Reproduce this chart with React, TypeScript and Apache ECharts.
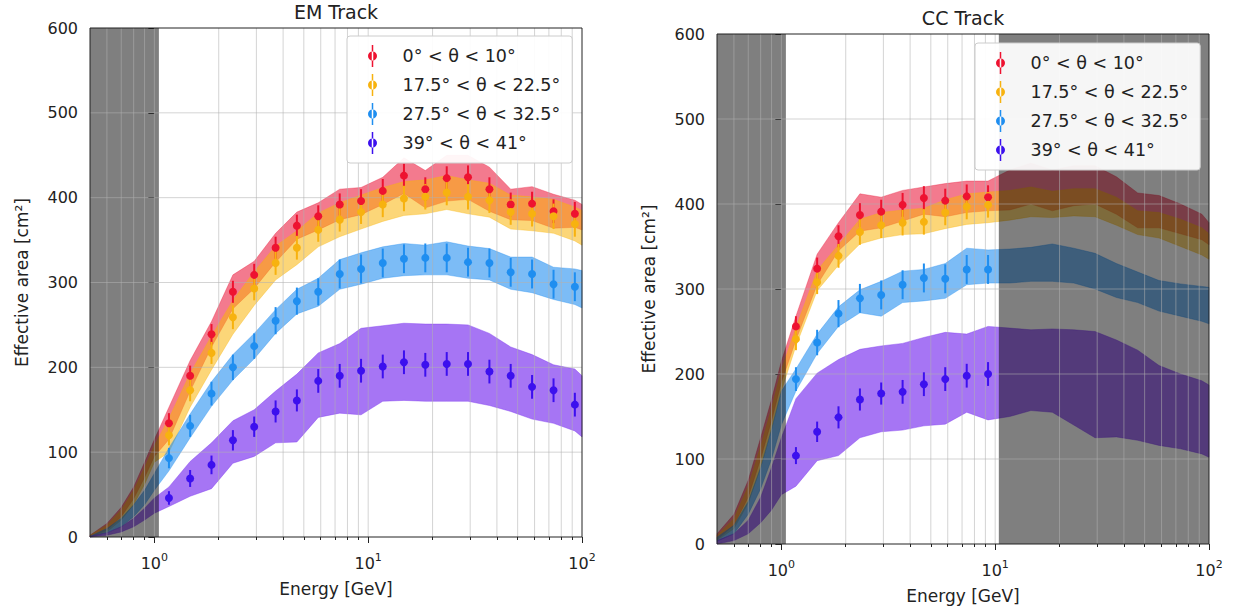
import React, { useEffect, useRef } from 'react';
import * as echarts from 'echarts';

const FONT = '"DejaVu Sans", "Liberation Sans", sans-serif';
const TEXT = '#222222';

const panelTitles = ['EM Track', 'CC Track'];
const xAxisName = 'Energy [GeV]';
const yAxisName = 'Effective area [cm²]';
const seriesLabels = ['0° < θ < 10°', '17.5° < θ < 22.5°', '27.5° < θ < 32.5°', '39° < θ < 41°'];

const xMajorTicks = [1, 10, 100];
const xMinorTicks = [0.6, 0.7, 0.8, 0.9, 2, 3, 4, 5, 6, 7, 8, 9, 20, 30, 40, 50, 60, 70, 80, 90];
const yGridValues = [100, 200, 300, 400, 500];
const X_MIN = 0.5;
const X_MAX = 100;
const Y_MIN = 0;
const Y_MAX = 600;

// bin centres (GeV)
const emEnergies = [1.17, 1.47, 1.85, 2.33, 2.93, 3.69, 4.64, 5.84, 7.36, 9.26, 11.7, 14.7, 18.5, 23.3, 29.3, 36.9, 46.4, 58.4, 73.6, 92.6];
const ccEnergies = [1.17, 1.47, 1.85, 2.33, 2.93, 3.69, 4.64, 5.84, 7.36, 9.26];
const bandEnergies = [0.5, 0.6, 0.7, 0.8, 0.9, 1.0, 1.17, 1.47, 1.85, 2.33, 2.93, 3.69, 4.64, 5.84, 7.36, 9.26, 11.7, 14.7, 18.5, 23.3, 29.3, 36.9, 46.4, 58.4, 73.6, 92.6, 100];

// EM track points
const emRed = [134, 190, 239, 289, 309, 341, 367, 378, 392, 396, 408, 426, 410, 423, 424, 410, 392, 393, 384, 381];
const emOrange = [120, 173, 217, 259, 293, 323, 341, 362, 374, 383, 392, 399, 401, 406, 401, 397, 383, 381, 378, 369];
const emBlue = [93, 131, 169, 200, 225, 255, 278, 289, 310, 316, 323, 328, 329, 329, 324, 323, 312, 310, 298, 295];
const emPurple = [46, 69, 85, 114, 130, 148, 161, 184, 190, 196, 201, 206, 203, 204, 204, 195, 190, 177, 173, 156];

const emRedErr = [12, 12, 12, 13, 13, 13, 13, 13, 13, 14, 14, 14, 14, 14, 14, 14, 14, 14, 14, 14];
const emOrangeErr = [12, 13, 13, 14, 14, 14, 14, 14, 14, 14, 15, 15, 15, 15, 15, 15, 15, 15, 15, 15];
const emBlueErr = [12, 13, 14, 15, 15, 16, 16, 16, 17, 17, 17, 17, 17, 17, 17, 17, 17, 17, 17, 17];
const emPurpleErr = [8, 10, 11, 12, 12, 13, 13, 14, 14, 14, 14, 14, 14, 14, 14, 14, 14, 14, 14, 14];

// EM track bands
const emRedHigh = [2, 16, 35, 59, 88, 115, 153, 208, 254, 309, 325, 358, 383, 394, 410, 412, 424, 447, 432, 450, 450, 436, 410, 413, 404, 397, 392];
const emRedLow = [0, 8, 24, 45, 70, 95, 115, 172, 224, 269, 293, 324, 351, 362, 374, 380, 392, 405, 388, 396, 398, 384, 374, 373, 364, 365, 362];
const emOrangeHigh = [2, 14, 32, 55, 82, 108, 140, 193, 237, 279, 313, 343, 361, 382, 394, 403, 412, 419, 421, 426, 421, 417, 403, 401, 398, 389, 385];
const emOrangeLow = [0, 6, 20, 38, 62, 88, 100, 153, 197, 239, 273, 303, 321, 342, 354, 363, 372, 379, 381, 386, 381, 377, 363, 361, 358, 349, 344];
const emBlueHigh = [1, 10, 22, 38, 55, 75, 105, 145, 183, 215, 240, 268, 292, 305, 327, 335, 342, 346, 344, 348, 343, 340, 330, 330, 318, 316, 314];
const emBlueLow = [0, 5, 12, 24, 38, 55, 78, 117, 154, 185, 210, 240, 263, 272, 292, 298, 305, 308, 309, 309, 305, 303, 292, 288, 280, 274, 270];
const emPurpleHigh = [1, 5, 12, 22, 34, 46, 59, 89, 111, 137, 150, 172, 192, 217, 228, 246, 249, 252, 251, 251, 250, 240, 224, 215, 203, 198, 190];
const emPurpleLow = [0, 2, 6, 12, 20, 28, 36, 48, 57, 87, 95, 111, 112, 141, 146, 144, 160, 161, 160, 160, 160, 155, 148, 139, 134, 125, 118];

// CC track points
const ccRed = [256, 324, 362, 387, 391, 399, 407, 404, 409, 408];
const ccOrange = [241, 308, 339, 367, 375, 378, 379, 390, 397, 399];
const ccBlue = [194, 237, 271, 289, 293, 305, 313, 312, 323, 323];
const ccPurple = [104, 132, 149, 170, 177, 179, 188, 194, 198, 200];

const ccRedErr = [12, 13, 13, 14, 14, 14, 14, 14, 14, 14];
const ccOrangeErr = [13, 14, 14, 15, 15, 15, 15, 15, 15, 15];
const ccBlueErr = [14, 15, 16, 17, 17, 17, 17, 17, 17, 17];
const ccPurpleErr = [10, 12, 13, 13, 13, 14, 14, 14, 14, 14];

// CC track bands
const ccRedHigh = [12, 35, 75, 125, 170, 215, 268, 341, 378, 412, 408, 416, 420, 424, 427, 427, 440, 448, 440, 445, 445, 432, 413, 410, 400, 388, 378];
const ccRedLow = [5, 22, 55, 100, 145, 190, 240, 305, 345, 368, 372, 380, 388, 385, 390, 392, 393, 400, 392, 398, 400, 388, 372, 372, 365, 358, 352];
const ccOrangeHigh = [10, 30, 68, 115, 160, 205, 255, 322, 352, 382, 390, 393, 395, 405, 412, 414, 416, 420, 415, 418, 418, 408, 392, 390, 382, 372, 365];
const ccOrangeLow = [4, 18, 48, 90, 135, 180, 233, 298, 328, 353, 360, 364, 365, 371, 376, 378, 381, 385, 384, 386, 385, 375, 364, 360, 350, 340, 335];
const ccBlueHigh = [8, 22, 50, 90, 135, 180, 206, 247, 279, 299, 309, 321, 323, 330, 348, 346, 347, 349, 353, 348, 342, 330, 320, 310, 306, 303, 302];
const ccBlueLow = [3, 12, 35, 65, 100, 140, 180, 224, 256, 272, 268, 284, 286, 289, 305, 307, 307, 309, 309, 307, 300, 290, 284, 274, 268, 262, 259];
const ccPurpleHigh = [4, 12, 28, 55, 90, 125, 171, 201, 217, 229, 233, 236, 243, 249, 247, 256, 254, 252, 253, 252, 250, 240, 228, 210, 200, 192, 187];
const ccPurpleLow = [0, 4, 12, 25, 40, 58, 68, 98, 104, 125, 132, 134, 139, 141, 155, 146, 150, 157, 155, 140, 125, 126, 122, 116, 112, 106, 102];

// shaded (excluded) energy ranges
const emGrayRanges = [[0.5, 1.05]];
const ccGrayRanges = [[0.5, 1.05], [10.4, 100]];

const pointColors = ['#ee1230', '#f7b20f', '#1f8ef0', '#3c10ee'];
const bandColors = ['rgba(235,25,60,0.58)', 'rgba(250,180,10,0.55)', 'rgba(30,140,240,0.58)', 'rgba(128,58,240,0.7)'];

const lg = (v: number) => Math.log10(v);

const LEGEND_ICON = 'path://M9.25,0h1.5v22h-1.5z M5.5,11a4.5,4.5 0 1,0 9,0a4.5,4.5 0 1,0 -9,0z';

function buildOption() {
  const series: any[] = [];

  const addPanel = (
    xi: number,
    yi: number,
    pointE: number[],
    points: number[][],
    errs: number[][],
    lows: number[][],
    highs: number[][],
    grays: number[][]
  ) => {
    for (let s = 0; s < 4; s++) {
      const low = lows[s];
      const high = highs[s];
      const fill = bandColors[s];
      series.push({
        type: 'custom',
        name: 'band-' + xi + '-' + s,
        coordinateSystem: 'cartesian2d',
        xAxisIndex: xi,
        yAxisIndex: yi,
        z: 1 + s * 0.1,
        silent: true,
        clip: false,
        data: [[lg(bandEnergies[0]), low[0]]],
        renderItem: (_p: any, api: any) => {
          const pts: number[][] = [];
          for (let i = 0; i < bandEnergies.length; i++) pts.push(api.coord([lg(bandEnergies[i]), high[i]]));
          for (let i = bandEnergies.length - 1; i >= 0; i--) pts.push(api.coord([lg(bandEnergies[i]), low[i]]));
          return { type: 'polygon', shape: { points: pts }, style: { fill, stroke: fill, lineWidth: 0.6 } };
        },
      });
    }
    series.push({
      type: 'custom',
      name: 'gray-' + xi,
      coordinateSystem: 'cartesian2d',
      xAxisIndex: xi,
      yAxisIndex: yi,
      z: 3,
      silent: true,
      clip: false,
      data: grays.map((g) => [lg(g[0]), lg(g[1])]),
      renderItem: (_p: any, api: any) => {
        const a = api.coord([api.value(0), Y_MAX]);
        const b = api.coord([api.value(1), Y_MIN]);
        return { type: 'rect', shape: { x: a[0], y: a[1], width: b[0] - a[0], height: b[1] - a[1] }, style: { fill: 'rgba(0,0,0,0.5)' } };
      },
    });
    series.push({
      type: 'custom',
      name: 'grid-' + xi,
      coordinateSystem: 'cartesian2d',
      xAxisIndex: xi,
      yAxisIndex: yi,
      z: 4,
      silent: true,
      clip: false,
      data: [[lg(X_MIN), Y_MIN]],
      renderItem: (_p: any, api: any) => {
        const children: any[] = [];
        const st = { stroke: 'rgba(176,176,176,0.55)', lineWidth: 1 };
        [...xMajorTicks, ...xMinorTicks].forEach((t) => {
          if (t >= X_MAX) return;
          const a = api.coord([lg(t), Y_MIN]);
          const b = api.coord([lg(t), Y_MAX]);
          children.push({ type: 'line', shape: { x1: a[0], y1: a[1], x2: b[0], y2: b[1] }, style: st });
        });
        yGridValues.forEach((v) => {
          const a = api.coord([lg(X_MIN), v]);
          const b = api.coord([lg(X_MAX), v]);
          children.push({ type: 'line', shape: { x1: a[0], y1: a[1], x2: b[0], y2: b[1] }, style: st });
        });
        return { type: 'group', children };
      },
    });
    for (let s = 0; s < 4; s++) {
      const color = pointColors[s];
      series.push({
        type: 'custom',
        name: 'err-' + xi + '-' + s,
        coordinateSystem: 'cartesian2d',
        xAxisIndex: xi,
        yAxisIndex: yi,
        z: 5,
        silent: true,
        clip: false,
        data: pointE.map((e, i) => [lg(e), points[s][i], errs[s][i]]),
        renderItem: (_p: any, api: any) => {
          const x = api.value(0);
          const v = api.value(1);
          const er = api.value(2);
          const a = api.coord([x, v - er]);
          const b = api.coord([x, v + er]);
          return { type: 'line', shape: { x1: a[0], y1: a[1], x2: b[0], y2: b[1] }, style: { stroke: color, lineWidth: 2 } };
        },
      });
      series.push({
        type: 'scatter',
        name: seriesLabels[s],
        xAxisIndex: xi,
        yAxisIndex: yi,
        z: 6,
        symbol: 'circle',
        symbolSize: 8,
        itemStyle: { color, opacity: 1 },
        data: pointE.map((e, i) => [lg(e), points[s][i]]),
      });
    }
    series.push({
      type: 'custom',
      name: 'frame-' + xi,
      coordinateSystem: 'cartesian2d',
      xAxisIndex: xi,
      yAxisIndex: yi,
      z: 7,
      silent: true,
      clip: false,
      data: [[lg(X_MIN), Y_MIN]],
      renderItem: (_p: any, api: any) => {
        const a = api.coord([lg(X_MIN), Y_MAX]);
        const b = api.coord([lg(X_MAX), Y_MIN]);
        return { type: 'rect', shape: { x: a[0], y: a[1], width: b[0] - a[0], height: b[1] - a[1] }, style: { fill: 'none', stroke: TEXT, lineWidth: 1 } };
      },
    });
  };

  addPanel(0, 0, emEnergies, [emRed, emOrange, emBlue, emPurple], [emRedErr, emOrangeErr, emBlueErr, emPurpleErr],
    [emRedLow, emOrangeLow, emBlueLow, emPurpleLow], [emRedHigh, emOrangeHigh, emBlueHigh, emPurpleHigh], emGrayRanges);
  addPanel(2, 1, ccEnergies, [ccRed, ccOrange, ccBlue, ccPurple], [ccRedErr, ccOrangeErr, ccBlueErr, ccPurpleErr],
    [ccRedLow, ccOrangeLow, ccBlueLow, ccPurpleLow], [ccRedHigh, ccOrangeHigh, ccBlueHigh, ccPurpleHigh], ccGrayRanges);

  const makeXAxes = (gridIndex: number) => [
    {
      type: 'value',
      gridIndex,
      min: lg(X_MIN),
      max: lg(X_MAX),
      position: 'bottom',
      axisLine: { show: false },
      splitLine: { show: false },
      axisTick: { show: true, length: 6, customValues: xMajorTicks.map(lg), lineStyle: { color: TEXT, width: 1 } },
      axisLabel: {
        customValues: xMajorTicks.map(lg),
        margin: 15,
        color: TEXT,
        fontSize: 16,
        fontFamily: FONT,
        lineHeight: 22,
        formatter: (v: number) => '10{sup|' + Math.round(v) + '}',
        rich: { sup: { fontSize: 11, fontFamily: FONT, color: TEXT, verticalAlign: 'top', lineHeight: 12 } },
      },
      name: xAxisName,
      nameLocation: 'middle',
      nameGap: 43,
      nameTextStyle: { fontSize: 17, color: TEXT, fontFamily: FONT },
    },
    {
      type: 'value',
      gridIndex,
      min: lg(X_MIN),
      max: lg(X_MAX),
      position: 'bottom',
      axisLine: { show: false },
      splitLine: { show: false },
      axisLabel: { show: false },
      axisTick: { show: true, length: 3, customValues: xMinorTicks.map(lg), lineStyle: { color: TEXT, width: 1 } },
    },
  ];

  const makeYAxis = (gridIndex: number) => ({
    type: 'value',
    gridIndex,
    min: Y_MIN,
    max: Y_MAX,
    interval: 100,
    axisLine: { show: false },
    splitLine: { show: false },
    axisTick: { show: true, length: 6, lineStyle: { color: TEXT, width: 1 } },
    axisLabel: { margin: 12, fontSize: 16, color: TEXT, fontFamily: FONT },
    name: yAxisName,
    nameLocation: 'middle',
    nameGap: 60,
    nameTextStyle: { fontSize: 17, color: TEXT, fontFamily: FONT },
  });

  const makeLegend = (left: number, top: number) => ({
    data: seriesLabels,
    orient: 'vertical',
    left,
    top,
    padding: [9, 12, 9, 21],
    itemWidth: 50,
    itemHeight: 22,
    itemGap: 7,
    icon: LEGEND_ICON,
    selectedMode: false,
    backgroundColor: 'rgba(255,255,255,0.93)',
    borderColor: '#cccccc',
    borderWidth: 1,
    borderRadius: 3,
    z: 20,
    textStyle: { fontSize: 17.5, color: TEXT, fontFamily: FONT },
  });

  return {
    animation: false,
    backgroundColor: '#ffffff',
    textStyle: { fontFamily: FONT },
    grid: [
      { left: 90, top: 28, width: 492, height: 509 },
      { left: 717, top: 34, width: 492, height: 510 },
    ],
    xAxis: [...makeXAxes(0), ...makeXAxes(1)],
    yAxis: [makeYAxis(0), makeYAxis(1)],
    legend: [makeLegend(347, 36), makeLegend(975, 43)],
    graphic: [
      { type: 'text', x: 336, y: 12, z: 30, style: { text: panelTitles[0], fill: TEXT, fontSize: 19, fontFamily: FONT, align: 'center', verticalAlign: 'middle' } },
      { type: 'text', x: 963, y: 18, z: 30, style: { text: panelTitles[1], fill: TEXT, fontSize: 19, fontFamily: FONT, align: 'center', verticalAlign: 'middle' } },
    ],
    series,
  };
}

export default function App() {
  const ref = useRef<HTMLDivElement>(null);
  useEffect(() => {
    if (!ref.current) return;
    const chart = echarts.init(ref.current, null, { renderer: 'svg' });
    chart.setOption(buildOption() as any);
    return () => chart.dispose();
  }, []);
  return <div ref={ref} style={{ position: 'absolute', left: 0, top: 0, width: 1234, height: 613, background: '#ffffff' }} />;
}
